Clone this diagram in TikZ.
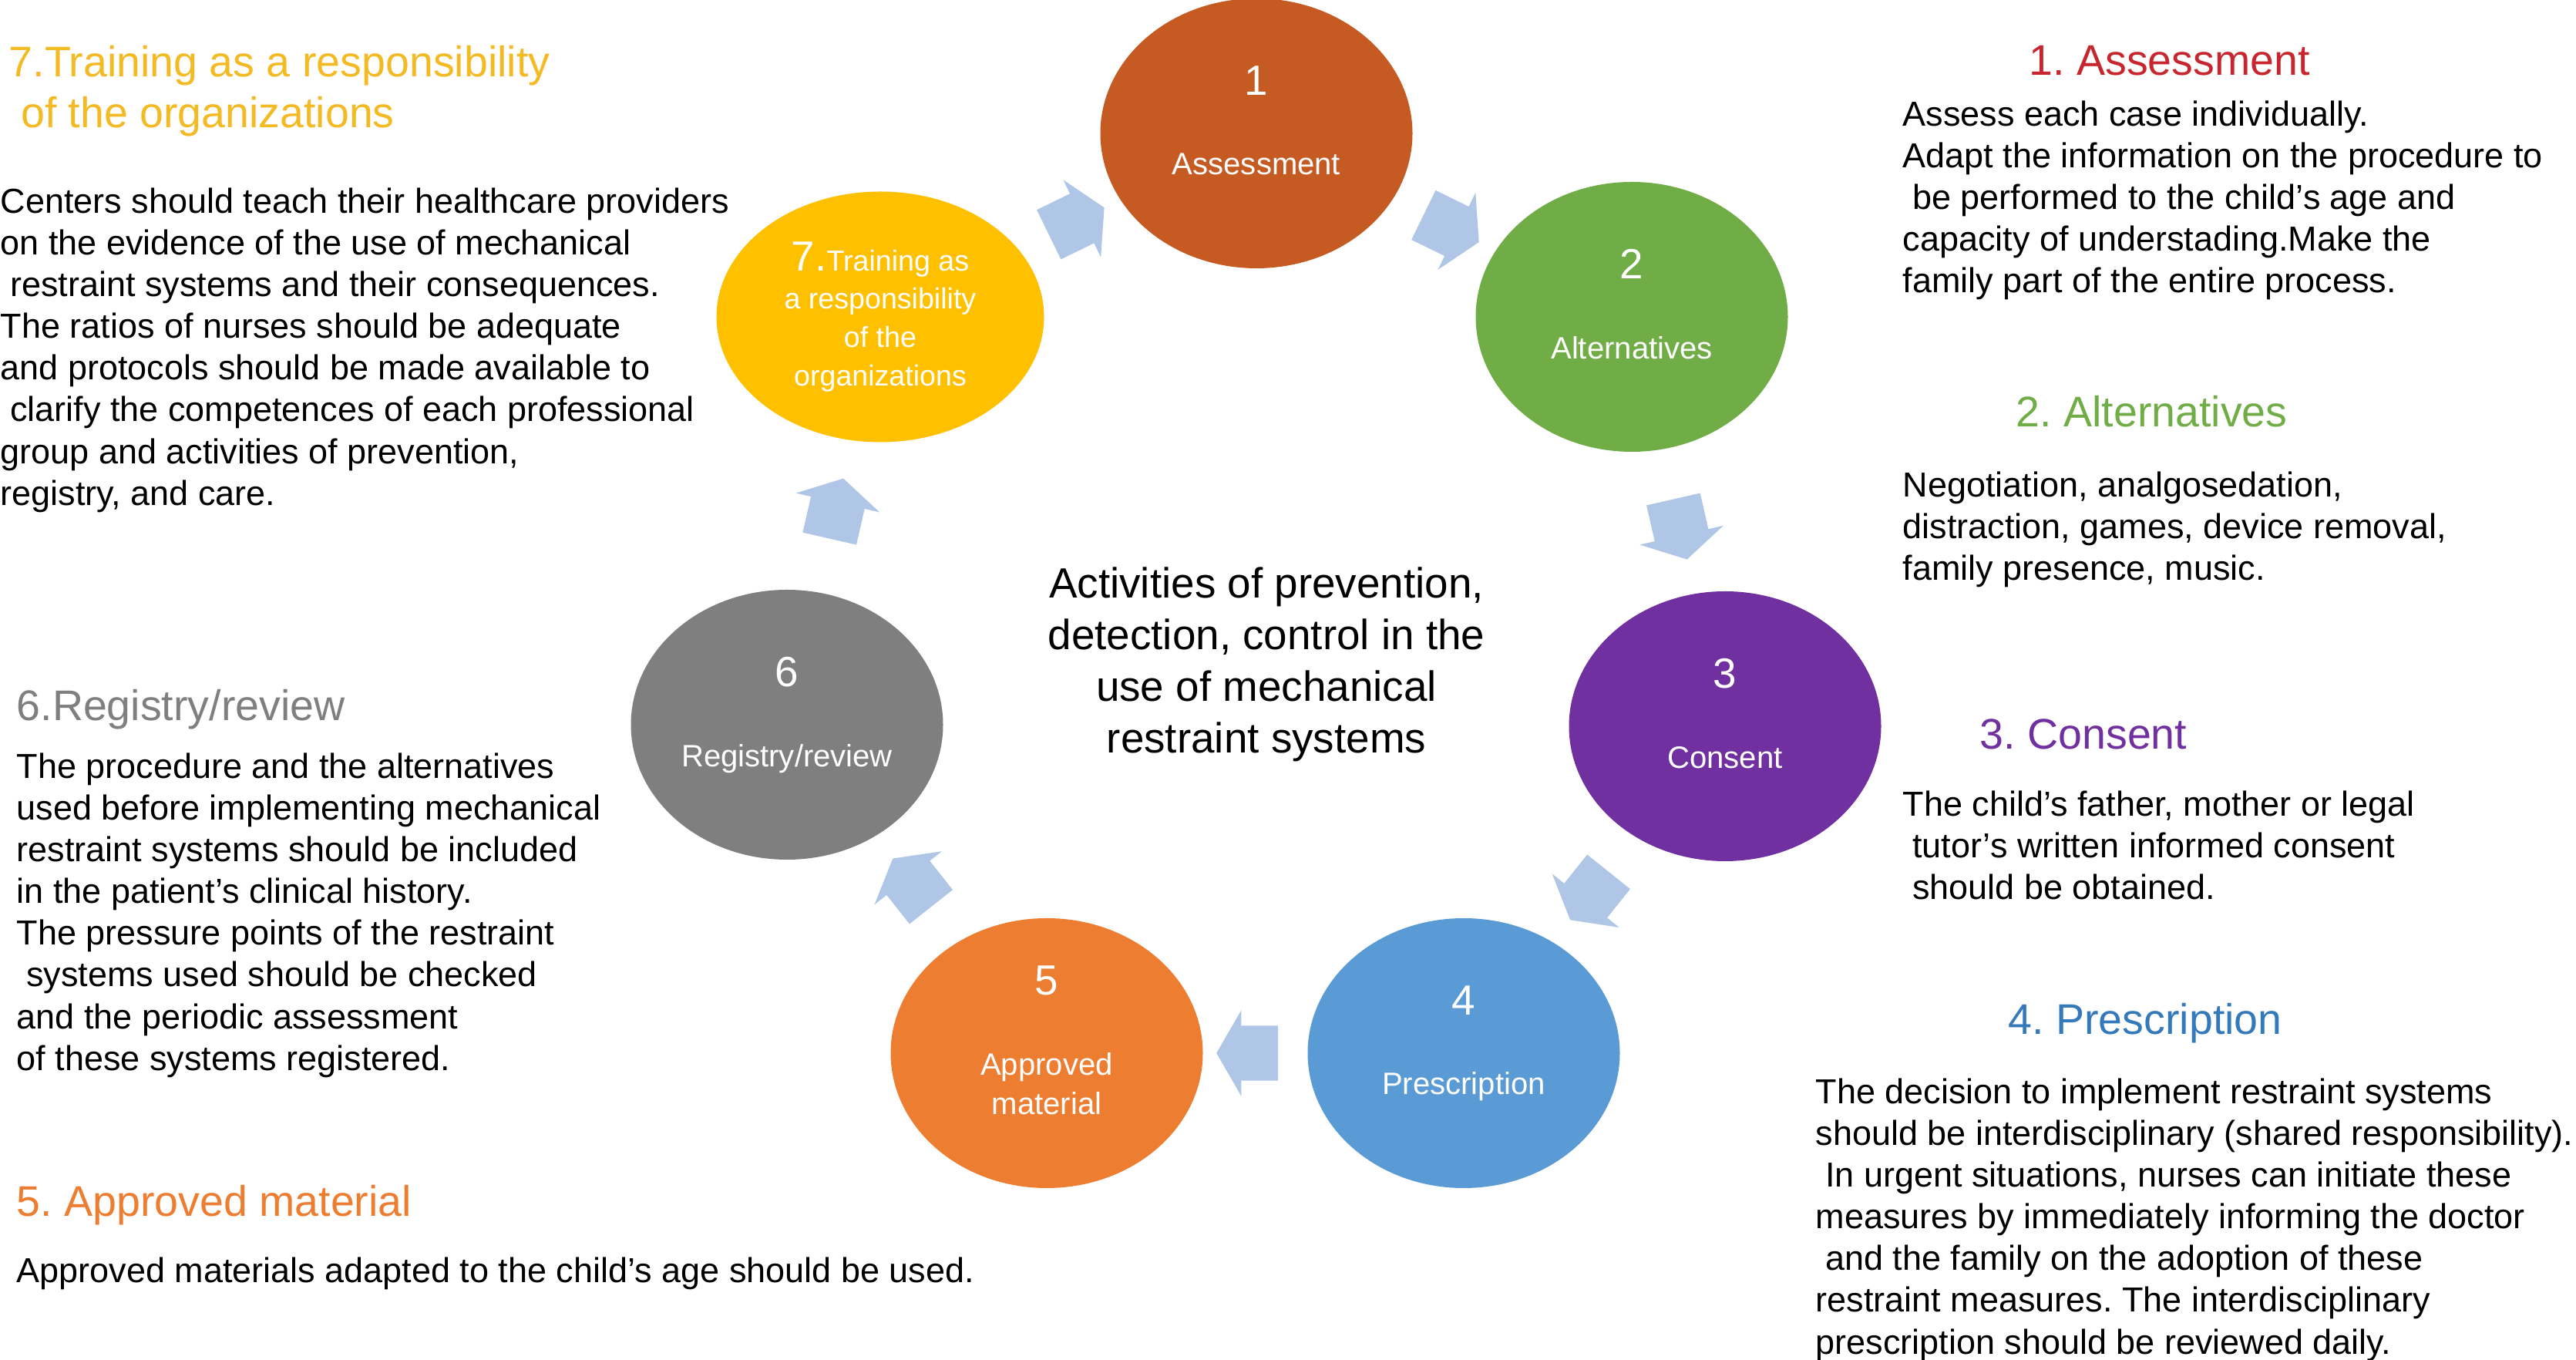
\documentclass[tikz,border=0pt]{standalone}
\usepackage{fontspec}
\setmainfont{Liberation Sans}
\usepackage{tikz}
\usetikzlibrary{shapes.geometric,shapes.arrows}
\definecolor{rust}{HTML}{C55A22}
\definecolor{leaf}{HTML}{70AD47}
\definecolor{grape}{HTML}{7030A0}
\definecolor{sky}{HTML}{5B9BD5}
\definecolor{tangerine}{HTML}{ED7D31}
\definecolor{ash}{HTML}{7F7F7F}
\definecolor{sun}{HTML}{FFC000}
\definecolor{arrowblue}{HTML}{AFC6E6}
\definecolor{crimson}{HTML}{C8262E}
\definecolor{ocean}{HTML}{3479BA}
\definecolor{gold}{HTML}{F4BA24}
\newcommand\stagenum[1]{{\fontsize{15.6}{18}\selectfont #1}}
\newcommand\stagetext[2]{\stagenum{#1}\\[15pt]#2\\[-5pt]\mbox{}}
\tikzset{
  stage/.style={ellipse, minimum width=4.05cm, minimum height=3.5cm, inner sep=0pt, draw=none,
                text=white, align=center, font=\fontsize{11.4}{14.5}\selectfont},
  flowarrow/.style={single arrow, fill=arrowblue, draw=none, minimum height=0.8cm, minimum width=0pt,
                    single arrow head extend=0.2cm, single arrow tip angle=120,
                    inner xsep=0pt, inner ysep=0.35cm, sloped, allow upside down},
  notehead/.style={anchor=north west, inner sep=0pt, align=left, font=\fontsize{15.8}{18.8}\selectfont},
  notetext/.style={anchor=north west, inner sep=0pt, align=left, font=\fontsize{12.8}{15.4}\selectfont},
  hub/.style={align=center, inner sep=0pt, font=\fontsize{15.6}{19.1}\selectfont}
}
\begin{document}
\frenchspacing
\begin{tikzpicture}
  \useasboundingbox (0,0) rectangle (33.42,17.64);
  \fill[white] (0,0) rectangle (33.42,17.64);

  \node[stage, fill=rust] (c1) at (16.30,15.91) {\stagetext{1}{Assessment}};
  \node[stage, fill=leaf] (c2) at (21.17,13.53) {\stagetext{2}{Alternatives}};
  \node[stage, fill=grape] (c3) at (22.38,8.22) {\stagetext{3}{Consent}};
  \node[stage, fill=sky] (c4) at (18.99,3.98) {\stagetext{4}{Prescription}};
  \node[stage, fill=tangerine] (c5) at (13.58,3.98) {\stagetext{5}{Approved\\material}};
  \node[stage, fill=ash] (c6) at (10.21,8.24) {\stagetext{6}{Registry/review}};
  \node[stage, fill=sun, minimum width=4.25cm, minimum height=3.25cm, font=\fontsize{10.7}{14.2}\selectfont]
    (c7) at (11.42,13.53) {\stagenum{7.}Training as\\a responsibility\\of the\\organizations};

  \path (c7) -- node[flowarrow] (a71) {} (c1);
  \path (c1) -- node[flowarrow] (a12) {} (c2);
  \path (c2) -- node[flowarrow] (a23) {} (c3);
  \path (c3) -- node[flowarrow] (a34) {} (c4);
  \path (c4) -- node[flowarrow] (a45) {} (c5);
  \path (c5) -- node[flowarrow] (a56) {} (c6);
  \path (c6) -- node[flowarrow] (a67) {} (c7);

  \node[hub] (hub) at (16.43,9.02) {Activities of prevention,\\detection, control in the\\use of mechanical\\restraint systems};

  \node[notehead, text=gold] (h7) at (0.11,17.05) {7.Training as a responsibility\\\ of the organizations};
  \node[notetext] (t7) at (0.0,15.21) {Centers should teach their healthcare providers\\on the evidence of the use of mechanical\\\ restraint systems and their consequences.\\The ratios of nurses should be adequate\\and protocols should be made available to\\\ clarify the competences of each professional\\group and activities of prevention,\\registry, and care.};
  \node[notehead, text=ash] (h6) at (0.21,8.70) {6.Registry/review};
  \node[notetext] (t6) at (0.21,7.88) {The procedure and the alternatives\\used before implementing mechanical\\restraint systems should be included\\in the patient’s clinical history.\\The pressure points of the restraint\\\ systems used should be checked\\and the periodic assessment\\of these systems registered.};
  \node[notehead, text=tangerine] (h5) at (0.21,2.27) {5. Approved material};
  \node[notetext] (t5) at (0.21,1.34) {Approved materials adapted to the child’s age should be used.};

  \node[notehead, text=crimson] (h1) at (26.32,17.05) {1. Assessment};
  \node[notetext] (t1) at (24.68,16.34) {Assess each case individually.\\Adapt the information on the procedure to\\\ be performed to the child’s age and\\capacity of understading.Make the\\family part of the entire process.};
  \node[notehead, text=leaf] (h2) at (26.15,12.51) {2. Alternatives};
  \node[notetext] (t2) at (24.68,11.53) {Negotiation, analgosedation,\\distraction, games, device removal,\\family presence, music.};
  \node[notehead, text=grape] (h3) at (25.68,8.32) {3. Consent};
  \node[notetext] (t3) at (24.68,7.39) {The child’s father, mother or legal\\\ tutor’s written informed consent\\\ should be obtained.};
  \node[notehead, text=ocean] (h4) at (26.05,4.63) {4. Prescription};
  \node[notetext] (t4) at (23.55,3.66) {The decision to implement restraint systems\\should be interdisciplinary (shared responsibility).\\\ In urgent situations, nurses can initiate these\\measures by immediately informing the doctor\\\ and the family on the adoption of these\\restraint measures. The interdisciplinary\\prescription should be reviewed daily.};
\end{tikzpicture}
\end{document}
